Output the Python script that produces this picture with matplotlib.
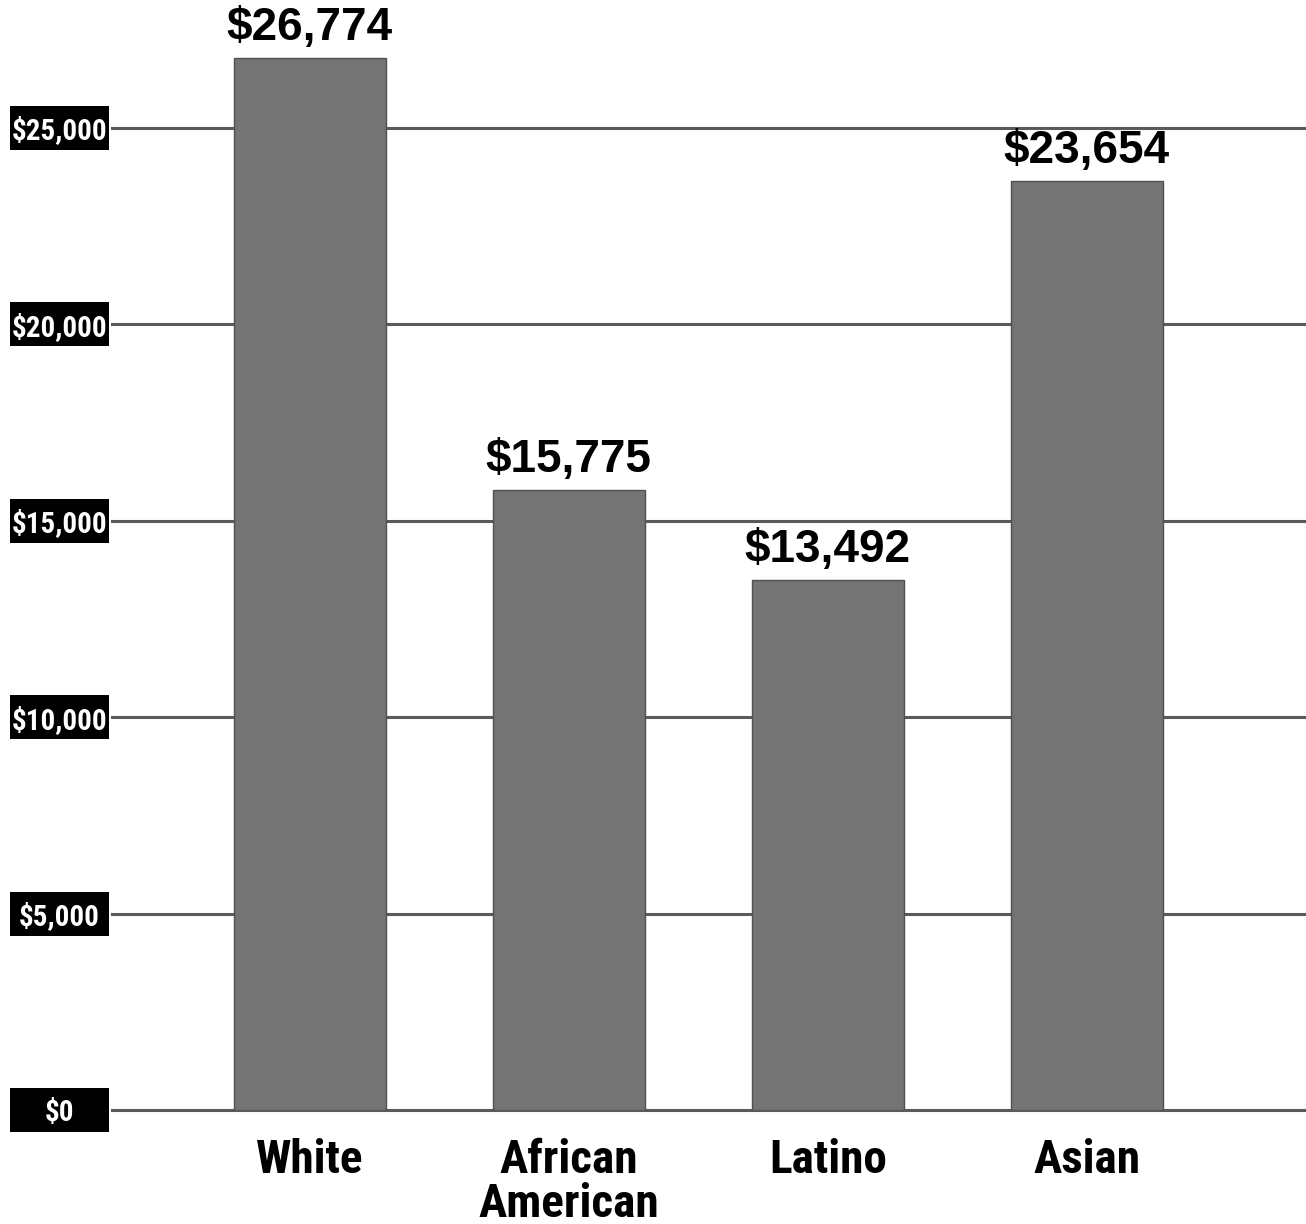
import numpy as np
import matplotlib.pyplot as plt
import matplotlib.transforms as mtransforms
from matplotlib import font_manager
from matplotlib.patches import Rectangle

# data
categorii = ["White", "African\nAmerican", "Latino", "Asian"]
valori = [26774, 15775, 13492, 23654]
etichete_valori = ["$26,774", "$15,775", "$13,492", "$23,654"]
tick_valori = [0, 5000, 10000, 15000, 20000, 25000]
tick_etichete = ["$0", "$5,000", "$10,000", "$15,000", "$20,000", "$25,000"]


def font_ingust():
    # cauta un font condensed, daca exista
    nume = set(f.name for f in font_manager.fontManager.ttflist)
    for n in ["Liberation Sans Narrow", "Roboto Condensed", "DejaVu Sans Condensed",
              "Open Sans Condensed", "Noto Sans Condensed"]:
        if n in nume:
            return n, True
    return "Liberation Sans", False


fam_ingust, e_ingust = font_ingust()

W, H = 1306, 1224
fig = plt.figure(figsize=(W / 100, H / 100), dpi=100)
ax = fig.add_axes([112 / W, (H - 1110) / H, 1 - 112 / W, 1110 / H])

ax.set_xlim(-0.764, 3.847)
ax.set_ylim(0, 28260)

for v in tick_valori:
    ax.axhline(v, color="#5a5a5a", lw=2.2, zorder=1, clip_on=False)

x = np.arange(len(categorii))
ax.bar(x, valori, width=0.587, color="#747474", edgecolor="#505050",
       linewidth=1, zorder=2)

for i in range(len(valori)):
    ax.annotate(etichete_valori[i], (x[i], valori[i]), xytext=(0, 6),
                textcoords="offset points", ha="center", va="bottom",
                fontsize=33, fontweight="bold",
                family=["Liberation Sans", "DejaVu Sans"], color="black")

ax.set_xticks(x)
ax.set_xticklabels(categorii, fontsize=34 if e_ingust else 29, fontweight="bold",
                   family=[fam_ingust, "DejaVu Sans"],
                   linespacing=1.0, va="top")
ax.tick_params(axis="x", length=0, pad=20)
ax.set_yticks([])
for s in ax.spines.values():
    s.set_visible(False)

# etichete y: text alb in cutii negre de aceeasi latime
trans = mtransforms.blended_transform_factory(fig.transFigure, ax.transData)
h_box = 44 / 1110 * 28260
for v, t in zip(tick_valori, tick_etichete):
    r = Rectangle((10 / W, v - h_box / 2), 99 / W, h_box, transform=trans,
                  facecolor="black", edgecolor="none", clip_on=False, zorder=3)
    ax.add_patch(r)
    ax.text(59.5 / W, v, t, transform=trans, ha="center", va="center_baseline",
            color="white", fontsize=21 if e_ingust else 17, fontweight="bold",
            family=[fam_ingust, "DejaVu Sans"], zorder=4, clip_on=False)

fig.savefig("out.png", dpi=100)
